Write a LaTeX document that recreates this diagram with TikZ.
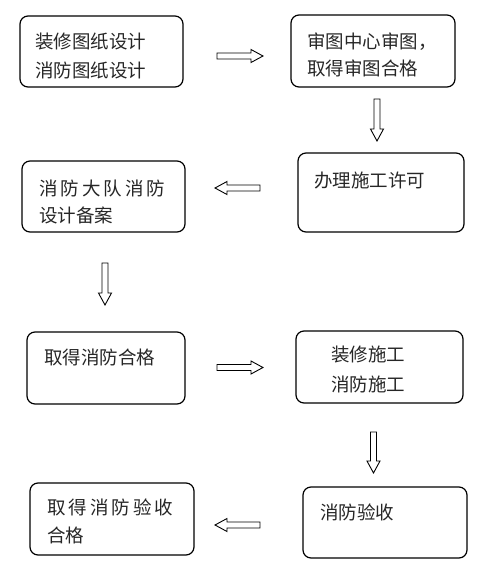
\documentclass[tikz,border=0pt]{standalone}
\usepackage{fontspec}
\setmainfont{Noto Sans CJK SC}
\begin{document}
\begin{tikzpicture}[x=1pt,y=-1pt,
  box/.style={draw=black,line width=1.2pt,rounded corners=8pt,inner sep=0pt},
  txt/.style={anchor=west,inner sep=0pt,text=black!85,font=\fontsize{18.5}{22}\selectfont},
  arrowline/.style={draw=black,line width=0.9pt,fill=white,line join=miter},
  pics/blockarrow/.style={code={
    \draw[arrowline] ({-#1/2},-3) -- ({#1/2-12},-3) -- ({#1/2-12},-6.5) -- ({#1/2},0)
      -- ({#1/2-12},6.5) -- ({#1/2-12},3) -- ({-#1/2},3) -- cycle;}}]
\useasboundingbox (0,0) rectangle (479,571);
% boxes
\node[box,minimum width=163pt,minimum height=71pt] (b1) at (101.5,51.5) {};
\node[box,minimum width=164pt,minimum height=72pt] (b2) at (373,51) {};
\node[box,minimum width=166pt,minimum height=79pt] (b3) at (381,192.5) {};
\node[box,minimum width=163pt,minimum height=71pt] (b4) at (103.5,196.5) {};
\node[box,minimum width=158pt,minimum height=72pt] (b5) at (106,368) {};
\node[box,minimum width=167pt,minimum height=72pt] (b6) at (379.5,367) {};
\node[box,minimum width=164pt,minimum height=72pt] (b7) at (112,519) {};
\node[box,minimum width=164pt,minimum height=71pt] (b8) at (385,522.5) {};
% texts
\node[txt] (t1a) at (35,42) {装修图纸设计};
\node[txt] (t1b) at (35,70) {消防图纸设计};
\node[txt] (t2a) at (307,42) {审图中心审图，};
\node[txt] (t2b) at (307,68) {取得审图合格};
\node[txt] (t3) at (314,180) {办理施工许可};
\node[txt] (t4a) at (39,188) {\spaceskip=3pt 消 防 大 队 消 防};
\node[txt] (t4b) at (39,215) {设计备案};
\node[txt] (t5) at (44,357) {取得消防合格};
\node[txt] (t6a) at (331,355) {装修施工};
\node[txt] (t6b) at (331,384) {消防施工};
\node[txt] (t7a) at (47,507) {\spaceskip=3pt 取 得 消 防 验 收};
\node[txt] (t7b) at (47,535) {合格};
\node[txt] (t8) at (320,512) {消防验收};
% arrows
\pic (a1) at (240,56) {blockarrow=46};
\pic[rotate=-90] (a2) at (377,120) {blockarrow=42};
\pic[rotate=180] (a3) at (237.5,188) {blockarrow=45};
\pic[rotate=-90] (a4) at (105,284) {blockarrow=42};
\pic (a5) at (240,367.5) {blockarrow=46};
\pic[rotate=-90] (a6) at (373.5,452.5) {blockarrow=41};
\pic[rotate=180] (a7) at (237.5,525) {blockarrow=45};
\end{tikzpicture}
\end{document}
